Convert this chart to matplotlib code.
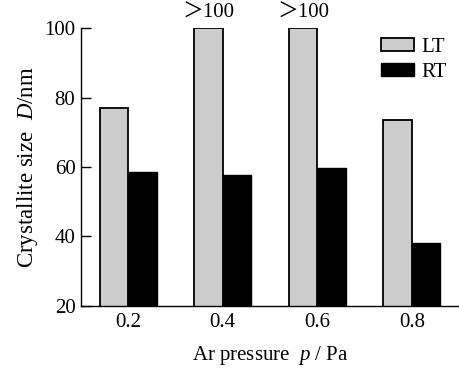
import numpy as np
import matplotlib
import matplotlib.pyplot as plt

matplotlib.use('Agg')

plt.rcParams['font.family'] = ['Liberation Serif', 'Noto Sans CJK SC']
plt.rcParams['mathtext.fontset'] = 'custom'
plt.rcParams['mathtext.rm'] = 'Liberation Serif'
plt.rcParams['mathtext.it'] = 'Liberation Serif:italic'

pressures = ['0.2', '0.4', '0.6', '0.8']
lt_size = [77, 100, 100, 73.5]
rt_size = [58.7, 57.8, 59.8, 38]
over_labels = ['', '＞100', '＞100', '']

x = np.arange(len(pressures))
w = 0.3

fig = plt.figure(figsize=(4.59, 3.70), dpi=100)
ax = fig.add_axes([0.1765, 0.173, 0.8235, 0.7513])

ax.bar(x - w / 2, lt_size, w, bottom=0, color='#cccccc', edgecolor='black',
       linewidth=1.3, label='LT')
ax.bar(x + w / 2, rt_size, w, bottom=0, color='black', edgecolor='black',
       linewidth=1.0, label='RT')

for i in range(len(pressures)):
    if over_labels[i]:
        ax.text(x[i] - w / 2, lt_size[i] + 1.5, over_labels[i], ha='center',
                va='bottom', fontsize=15)

ax.set_xlim(-0.5, 3.5)
ax.set_ylim(20, 100)
ax.set_yticks([20, 40, 60, 80, 100])
ax.set_xticks(x)
ax.set_xticklabels(pressures)
ax.tick_params(axis='y', direction='in', length=7, width=1, labelsize=15, pad=4)
ax.tick_params(axis='x', length=0, labelsize=15, pad=5)

ax.spines['top'].set_visible(False)
ax.spines['right'].set_visible(False)
ax.spines['left'].set_linewidth(1)
ax.spines['bottom'].set_linewidth(1)

ax.set_ylabel(r'Crystallite size  $D$/nm', fontsize=16.5, labelpad=3)
ax.set_xlabel(r'Ar pressure  $p$ / Pa', fontsize=15, labelpad=9)

ax.legend(loc='upper left', bbox_to_anchor=(0.793, 0.965), frameon=False,
          borderpad=0, borderaxespad=0,
          fontsize=15, handlelength=1.6, handleheight=0.6, handletextpad=0.35,
          labelspacing=0.3)

plt.savefig('out.png', dpi=100)
